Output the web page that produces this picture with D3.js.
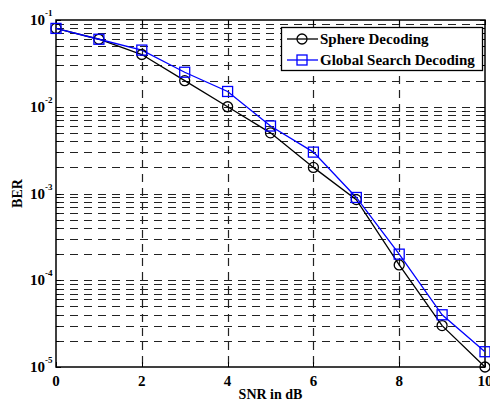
<!DOCTYPE html>
<html><head><meta charset="utf-8">
<script src="https://cdn.jsdelivr.net/npm/d3@7"></script>
<style>body{margin:0;background:#fff}svg{display:block}</style>
</head><body><svg id="c" width="490" height="402"></svg>
<script>
const snr = [0,1,2,3,4,5,6,7,8,9,10];
const sphere = [0.08,0.06,0.04,0.02,0.01,0.005,0.002,0.00085,0.00015,0.00003,0.00001];
const globalSearch = [0.08,0.06,0.045,0.025,0.015,0.006,0.003,0.0009,0.0002,0.00004,0.000015];
const xTicks = [0,2,4,6,8,10];
const yExps = [-1,-2,-3,-4,-5];
const seriesNames = ["Sphere Decoding","Global Search Decoding"];

const FF = "Liberation Serif";
const svg = d3.select("#c");
const L=56,R=485,T=20,B=367;
const x = d3.scaleLinear().domain([0,10]).range([L,R]);
const y = d3.scaleLog().domain([1e-5,1e-1]).range([B,T]);
function txt(sel){ return sel.attr("font-family",FF).attr("font-weight","bold").attr("fill","#000"); }

// grid
const g = svg.append("g");
const minor = [];
for (let e=-5;e<-1;e++) for (let m=1;m<=9;m++) minor.push(m*Math.pow(10,e));
minor.push(0.1);
g.selectAll("line.h").data(minor.filter(v=>v>1e-5*1.01 && v<0.099)).enter().append("line")
 .attr("x1",L).attr("x2",R).attr("y1",d=>Math.round(y(d))+0.5).attr("y2",d=>Math.round(y(d))+0.5)
 .attr("stroke","#222").attr("stroke-width",1.2).attr("stroke-dasharray","8,6");
g.selectAll("line.v").data(xTicks.filter(v=>v>0&&v<10)).enter().append("line")
 .attr("y1",T).attr("y2",B).attr("x1",d=>Math.round(x(d))+0.5).attr("x2",d=>Math.round(x(d))+0.5)
 .attr("stroke","#222").attr("stroke-width",1.2).attr("stroke-dasharray","8,6");

// ticks inner
const tk = svg.append("g").attr("stroke","#000").attr("stroke-width",1);
xTicks.forEach(v=>{
  const px=Math.round(x(v))+0.5;
  tk.append("line").attr("x1",px).attr("x2",px).attr("y1",B).attr("y2",B-5);
  tk.append("line").attr("x1",px).attr("x2",px).attr("y1",T).attr("y2",T+5);
});
minor.forEach(v=>{
  const py=Math.round(y(v))+0.5;
  const major = yExps.some(e=>Math.abs(Math.log10(v)-e)<1e-6);
  const len = major?5:3;
  tk.append("line").attr("x1",L).attr("x2",L+len).attr("y1",py).attr("y2",py);
  tk.append("line").attr("x1",R).attr("x2",R-len).attr("y1",py).attr("y2",py);
});

// box
svg.append("rect").attr("x",L).attr("y",T).attr("width",R-L).attr("height",B-T)
 .attr("fill","none").attr("stroke","#000").attr("stroke-width",1.5);

// tick labels
txt(svg.selectAll("text.xt").data(xTicks).enter().append("text"))
 .attr("x",d=>x(d)).attr("y",386).attr("text-anchor","middle").attr("font-size",15).text(d=>d);
yExps.forEach(e=>{
  const t = txt(svg.append("text")).attr("x",30).attr("y",y(Math.pow(10,e))+5).attr("font-size",15);
  t.append("tspan").text("10");
  t.append("tspan").attr("font-size",9).attr("dy",-9).text(e);
});

// axis labels
txt(svg.append("text")).attr("x",(L+R)/2).attr("y",399).attr("text-anchor","middle").attr("font-size",14).text("SNR in dB");
txt(svg.append("text")).attr("transform",`translate(22,${(T+B)/2}) rotate(-90)`).attr("text-anchor","middle").attr("font-size",14).text("BER");

// series
const line = d3.line().x((d,i)=>x(snr[i])).y(d=>y(d));
svg.append("path").datum(sphere).attr("d",line).attr("fill","none").attr("stroke","#000").attr("stroke-width",1.3);
svg.append("path").datum(globalSearch).attr("d",line).attr("fill","none").attr("stroke","#0000ff").attr("stroke-width",1.3);
svg.selectAll("circle.s").data(sphere).enter().append("circle")
 .attr("cx",(d,i)=>x(snr[i])).attr("cy",d=>y(d)).attr("r",5).attr("fill","none").attr("stroke","#000").attr("stroke-width",1.3);
svg.selectAll("rect.g").data(globalSearch).enter().append("rect")
 .attr("x",(d,i)=>x(snr[i])-5).attr("y",d=>y(d)-5).attr("width",10).attr("height",10).attr("fill","none").attr("stroke","#0000ff").attr("stroke-width",1.3);

// legend
const lg = svg.append("g");
lg.append("rect").attr("x",281.5).attr("y",27.5).attr("width",201).attr("height",43).attr("fill","#fff").attr("stroke","#000").attr("stroke-width",1.3);
const rows=[{c:"#000",sh:"circle",yy:39},{c:"#0000ff",sh:"square",yy:60}];
rows.forEach((r,i)=>{
  lg.append("line").attr("x1",287).attr("x2",318).attr("y1",r.yy).attr("y2",r.yy).attr("stroke",r.c).attr("stroke-width",1.3);
  if(r.sh==="circle") lg.append("circle").attr("cx",302).attr("cy",r.yy).attr("r",5).attr("fill","none").attr("stroke",r.c).attr("stroke-width",1.3);
  else lg.append("rect").attr("x",297).attr("y",r.yy-5).attr("width",10).attr("height",10).attr("fill","none").attr("stroke",r.c).attr("stroke-width",1.3);
  txt(lg.append("text")).attr("x",320).attr("y",r.yy+5).attr("font-size",15).text(seriesNames[i]);
});
</script></body></html>
